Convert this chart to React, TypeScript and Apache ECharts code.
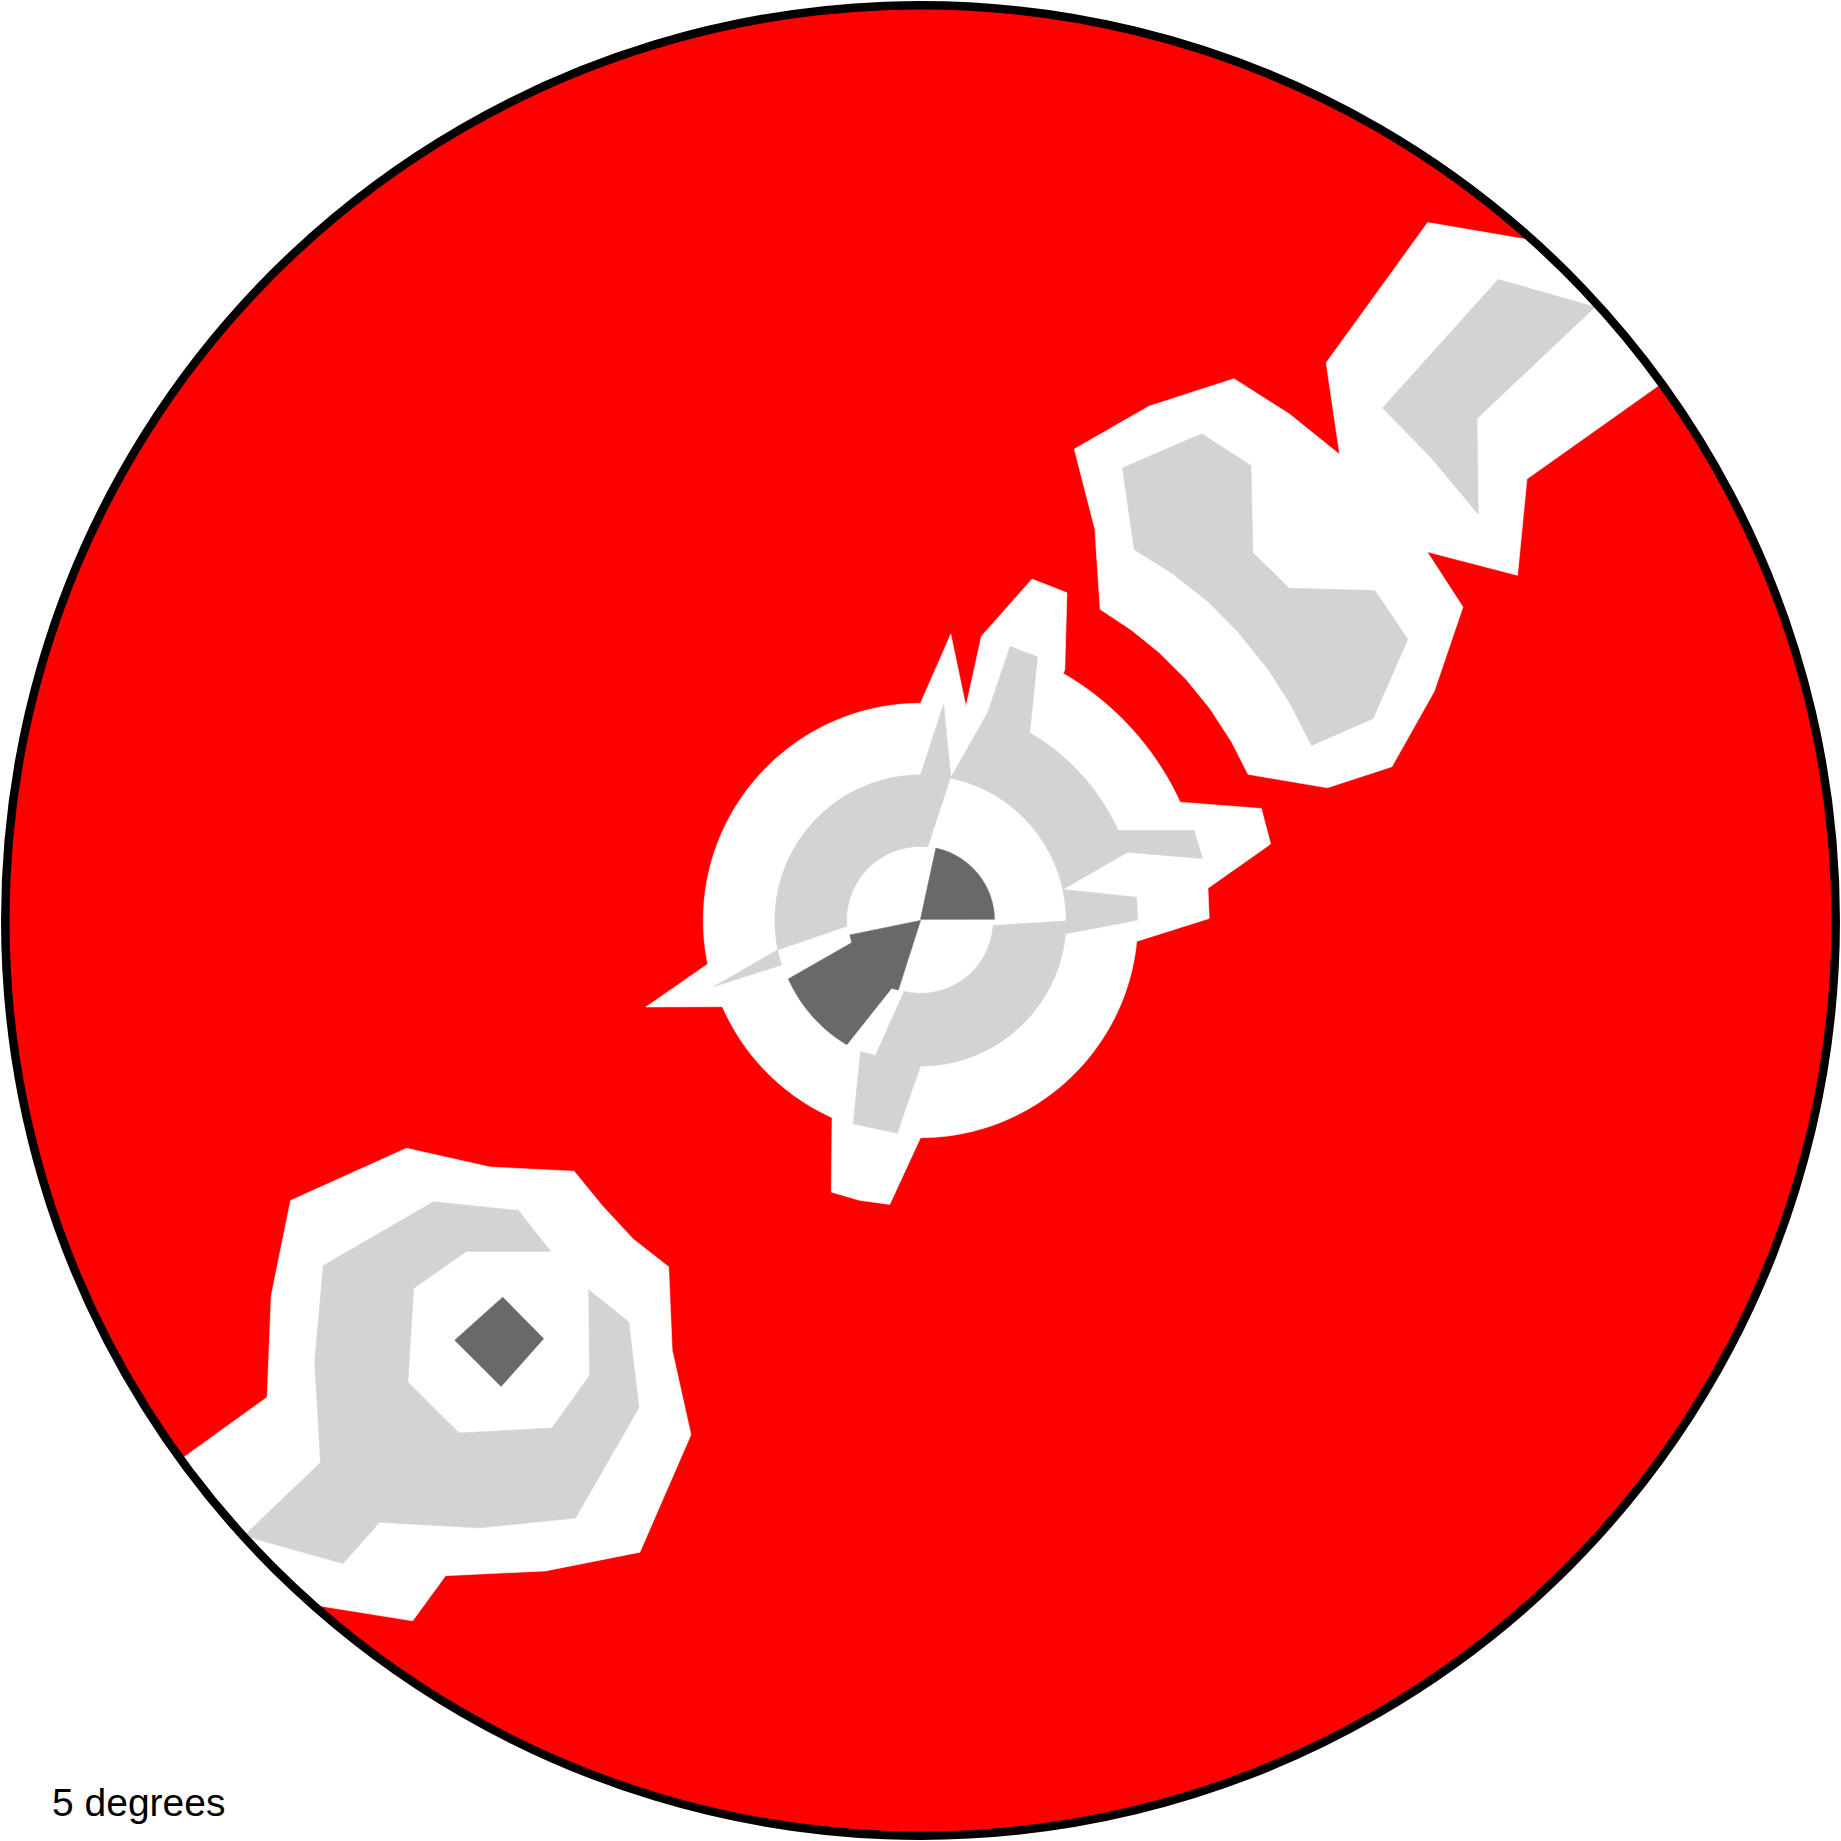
import { useEffect, useRef } from "react";
import * as echarts from "echarts";

// Plot units: the disc is centred on (0, 0) and its edge sits at radius 779.5.
// A vertex is [x, y]; an arc of the contour is { r, from, to } (degrees, centred on 0,0).
type Vertex = [number, number] | { r: number; from: number; to: number };

const DISC_RADIUS = 779.5;
const AXIS_EXTENT = 784;
const SCALE_LABEL = "5 degrees";

// level 1 (white) contours
const centreWhite: Vertex[] = [
  [25.8, 243.9], [38.7, 182.3], [51.9, 242.2], [95, 290.8], [124.7, 279.1], [122.9, 213.3],
  { r: 243, from: 60, to: 24.5 },
  [290.3, 95.4], [298.2, 65.1], [244.8, 27.5], [245.9, 1.8], [184.6, -17.6],
  { r: 185, from: -5.4, to: -90 },
  [-26.2, -241.8], [-52, -238.3], [-76, -231.3], [-75.3, -166.8],
  { r: 184, from: 245.7, to: 203.5 },
  [-233.8, -73.6], [-181.1, -37],
  { r: 185, from: 191.5, to: 90 },
];

const upperRightWhite: Vertex[] = [
  [432, 594.5], [546, 575], [656, 475], [516.5, 376], [508.5, 294], [431.5, 314],
  [462, 267], [437.5, 195], [401.5, 131], [346.5, 113], [279, 124.5], [265, 152],
  [246.5, 180.5], [226.5, 205], [203, 228.5], [179.5, 247.5], [153, 265], [148.5, 333.5],
  [131, 401.5], [194.5, 438], [267, 461.5], [314, 431.5], [357, 397], [345.5, 475],
];

const lowerLeftWhite: Vertex[] = [
  [-437.8, -194], [-366.5, -210], [-295, -213.5], [-271, -243], [-244.5, -271.5],
  [-214.5, -295], [-211.5, -366], [-195.5, -438], [-239, -538], [-319.5, -554],
  [-404.5, -558], [-432.5, -596.5], [-554, -577], [-664, -483.5], [-556.5, -406],
  [-553, -319.5], [-536.5, -238.5],
];

// level 2 (light grey) contours
const centreGreyUpperLeft: Vertex[] = [
  [0, 124], [19.7, 184.1], [25.8, 122.5], [6.4, 63.4],
  { r: 63, from: 84.2, to: 184.5 },
  [-121.9, -25.1],
  { r: 124, from: 191.6, to: 90 },
];

const centreGreyLeftSpike: Vertex[] = [[-121.9, -25.1], [-175.9, -56.3], [-118.3, -37.9]];

const centreGreyUpperRight: Vertex[] = [
  [76.3, 233.4], [99.6, 224.6], [93.2, 161.2],
  { r: 185, from: 60, to: 24.5 },
  [233, 76.7], [240.2, 52.8], [176.3, 58.1], [121.2, 26.4],
  { r: 124, from: 12.3, to: 78.1 },
  [57.3, 177.1],
];

const centreGreyLowerRight: Vertex[] = [
  [62, -4.2], [123.5, -0.5],
  { r: 124, from: 0, to: 12.3 },
  [184.1, 19.8], [185, 0.4], [123, -11.5],
  { r: 124, from: -5.4, to: -90 },
  [-16, -169.9], [-19.7, -181.3], [-57.4, -173.2], [-51, -111.6], [-38.4, -115.1], [-13.7, -59.8],
  { r: 62, from: -103, to: -3.9 },
];

const upperRightGreyOuter: Vertex[] = [
  [492, 546], [574.5, 522.5], [474, 427.5], [475, 346], [435.5, 393.5], [393.5, 436.5],
];

const upperRightGreyInner: Vertex[] = [
  [172, 385.5], [239.5, 414.5], [281.5, 387.5], [283, 313.5], [314, 283], [387, 281],
  [415, 239.5], [385.5, 172], [333, 149], [315.5, 183.5], [296, 214], [271, 245],
  [244.5, 272], [214.5, 295.5], [182, 316],
];

const lowerLeftGrey: Vertex[] = [
  [-414.8, -239.5], [-342.5, -247], [-315, -281.8], [-386.7, -281.8], [-431.7, -313.3],
  [-436.6, -393], [-393, -436.5], [-313.9, -432.3], [-281.8, -387.5], [-282.6, -314.5],
  [-248.5, -342], [-239.8, -414.7], [-293.8, -509], [-375.9, -517.3], [-460.8, -512.6],
  [-491.9, -547.7], [-576.2, -524], [-511, -461.7], [-516, -376], [-508.6, -293.9],
];

// level 3 (dim grey) contours
const centreDarkUpperRight: Vertex[] = [[0, 1], { r: 63, from: 1, to: 78 }];

const centreDarkLowerLeft: Vertex[] = [
  [0, 0], [-60.1, -12.3], [-58.6, -18.9], [-112.6, -49.8],
  { r: 123, from: 203.9, to: 239.3 },
  [-24.6, -57.8], [-18.9, -59.2],
];

const lowerLeftDark: Vertex[] = [[-355.8, -320.8], [-321, -356.2], [-357.2, -396.8], [-396.7, -357.5]];

const whiteShapes = [centreWhite, upperRightWhite, lowerLeftWhite];
const greyShapes = [
  centreGreyUpperLeft, centreGreyLeftSpike, centreGreyUpperRight, centreGreyLowerRight,
  upperRightGreyOuter, upperRightGreyInner, lowerLeftGrey,
];
const darkShapes = [centreDarkUpperRight, centreDarkLowerLeft, lowerLeftDark];

function trace(path: Vertex[], api: any) {
  const points: number[][] = [];
  path.forEach((v) => {
    if (Array.isArray(v)) {
      points.push(api.coord(v));
      return;
    }
    const steps = Math.max(2, Math.ceil(Math.abs(v.to - v.from) / 2));
    for (let i = 0; i <= steps; i++) {
      const a = ((v.from + ((v.to - v.from) * i) / steps) * Math.PI) / 180;
      points.push(api.coord([v.r * Math.cos(a), v.r * Math.sin(a)]));
    }
  });
  return points;
}

function contourSeries(shapes: Vertex[][], color: string, z: number) {
  return {
    type: "custom",
    coordinateSystem: "cartesian2d",
    silent: true,
    z,
    data: shapes.map((_, i) => [0, 0, i]),
    renderItem: (params: any, api: any) => ({
      type: "polygon",
      shape: { points: trace(shapes[params.dataIndex], api) },
      style: { fill: color, stroke: color, lineWidth: 0.6 },
    }),
  };
}

export default function App() {
  const chartRef = useRef<HTMLDivElement>(null);

  useEffect(() => {
    let chart: echarts.ECharts | null = null;

    if (chartRef.current) {
      chart = echarts.init(chartRef.current, null, { renderer: "svg" });
      chart.setOption({
        animation: false,
        backgroundColor: "#ffffff",
        grid: { left: 0, right: 0, top: 0, bottom: 0 },
        xAxis: { type: "value", min: -AXIS_EXTENT, max: AXIS_EXTENT, show: false },
        yAxis: { type: "value", min: -AXIS_EXTENT, max: AXIS_EXTENT, show: false },
        graphic: [
          {
            type: "text",
            x: 52,
            y: 1802,
            z: 100,
            style: {
              text: SCALE_LABEL,
              fontSize: 39,
              fontFamily: "Liberation Sans",
              fill: "#000000",
              verticalAlign: "middle",
              textVerticalAlign: "middle",
            },
          },
        ],
        series: [
          {
            type: "custom",
            coordinateSystem: "cartesian2d",
            silent: true,
            z: 1,
            data: [[0, 0]],
            renderItem: (_params: any, api: any) => {
              const c = api.coord([0, 0]);
              return {
                type: "circle",
                shape: { cx: c[0], cy: c[1], r: api.size([DISC_RADIUS, 0])[0] },
                style: { fill: "#ff0000" },
              };
            },
          },
          contourSeries(whiteShapes, "#ffffff", 2),
          contourSeries(greyShapes, "#d3d3d3", 3),
          contourSeries(darkShapes, "#696969", 4),
          {
            type: "custom",
            coordinateSystem: "cartesian2d",
            silent: true,
            z: 5,
            data: [[0, 0]],
            renderItem: (_params: any, api: any) => {
              const c = api.coord([0, 0]);
              const r = api.size([DISC_RADIUS, 0])[0];
              return {
                type: "group",
                children: [
                  {
                    type: "ring",
                    shape: { cx: c[0], cy: c[1], r0: r, r: r * 2 },
                    style: { fill: "#ffffff" },
                  },
                  {
                    type: "circle",
                    shape: { cx: c[0], cy: c[1], r },
                    style: { fill: "none", stroke: "#000000", lineWidth: 8.5 },
                  },
                ],
              };
            },
          },
        ],
      });

      const handleResize = () => {
        if (chart) {
          chart.resize();
        }
      };

      window.addEventListener("resize", handleResize);

      return () => {
        window.removeEventListener("resize", handleResize);
        if (chart) {
          chart.dispose();
        }
      };
    }
  }, []);

  return (
    <div
      ref={chartRef}
      style={{ position: "fixed", left: 0, top: 0, width: 1841, height: 1841, background: "#ffffff" }}
    />
  );
}
